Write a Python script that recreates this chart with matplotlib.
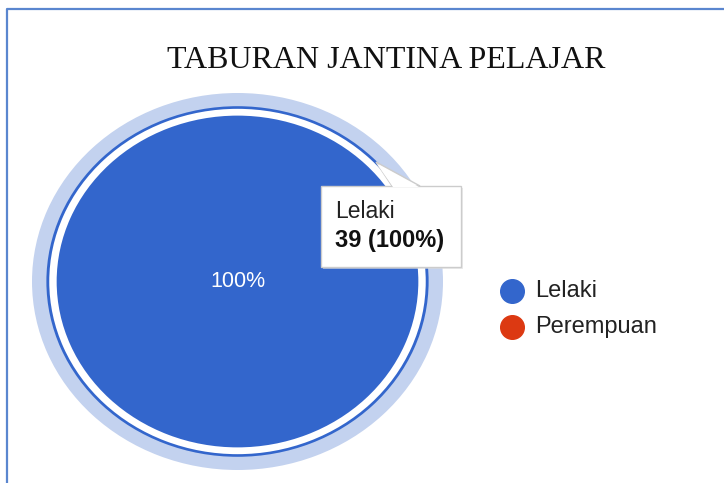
import numpy as np
import matplotlib.pyplot as plt
from matplotlib.patches import FancyBboxPatch, Polygon

labels = ['Lelaki', 'Perempuan']
values = [39, 0]
colors = ['#3366cc', '#dc3912']
title = 'TABURAN JANTINA PELAJAR'

W, H = 724, 483
fig = plt.figure(figsize=(W / 100, H / 100), dpi=100)
fig.patch.set_facecolor('white')

# pie axes covers the halo box (pixel coords from top-left)
hx0, hx1, hy0, hy1 = 32, 443, 93, 470
ax = fig.add_axes([hx0 / W, 1 - hy1 / H, (hx1 - hx0) / W, (hy1 - hy0) / H])
ax.set_zorder(1)

total = sum(values)
pcts = [v / total * 100 for v in values]

# hover halo + ring
ax.pie([values[0]], radius=1.0, colors=['#c3d2ef'], startangle=90,
       counterclock=False, wedgeprops=dict(width=0.075, linewidth=0))
ax.pie([values[0]], radius=0.93, colors=[colors[0]], startangle=90,
       counterclock=False, wedgeprops=dict(width=0.014, linewidth=0))
# main pie
wedges, _ = ax.pie(values, radius=0.88, colors=colors, startangle=90,
                   counterclock=False, wedgeprops=dict(linewidth=0))
ax.set_aspect('auto')
ax.set_xlim(-1, 1)
ax.set_ylim(-1, 1)
ax.axis('off')
ax.text(0, 0, f'{pcts[0]:.0f}%', color='white', ha='center', va='center',
        fontsize=15.5, family='Liberation Sans')

# overlay in pixel coords
ov = fig.add_axes([0, 0, 1, 1])
ov.set_zorder(2)
ov.patch.set_alpha(0)
ov.set_xlim(0, W)
ov.set_ylim(H, 0)
ov.axis('off')

# frame border (left + top)
ov.plot([7, 7, W], [H, 9, 9], color='#5a86cf', lw=1.6, solid_capstyle='butt')

ov.text(386, 60, title, ha='center', va='center', fontsize=23,
        family='Liberation Serif', color='#111111')

# tooltip
ov.add_patch(FancyBboxPatch((323, 188), 140, 81, boxstyle='square,pad=0',
                            facecolor='#dddddd', edgecolor='none', alpha=0.6))
ov.add_patch(Polygon([[376, 162], [392, 186], [420, 186]], closed=True,
                     facecolor='white', edgecolor='#cccccc', lw=1))
ov.add_patch(FancyBboxPatch((321, 186), 140, 81, boxstyle='square,pad=0',
                            facecolor='white', edgecolor='#cccccc', lw=1))
ov.add_patch(Polygon([[377, 164], [393, 187], [419, 187]], closed=True,
                     facecolor='white', edgecolor='none'))
ov.text(335, 211, labels[0], ha='left', va='center', fontsize=16.5,
        family='Liberation Sans', color='#222222')
ov.text(335, 241, f'{values[0]} ({pcts[0]:.0f}%)', ha='left', va='center',
        fontsize=17, family='Liberation Sans', weight='bold', color='#111111')

# legend
for i, (lab, c) in enumerate(zip(labels, colors)):
    y = 291 + 36 * i
    ov.plot(512, y, marker='o', markersize=17, color=c, ls='')
    ov.text(535, y, lab, ha='left', va='center', fontsize=17,
            family='Liberation Sans', color='#222222')

fig.savefig('out.png', dpi=100, facecolor='white')
